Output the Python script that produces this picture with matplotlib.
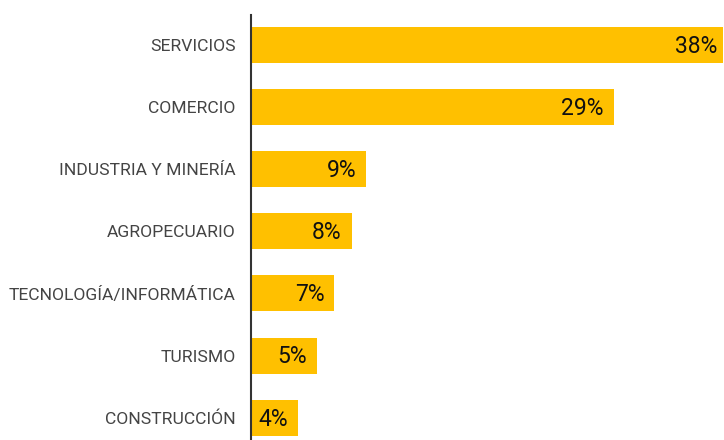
import matplotlib.pyplot as plt

sectors = ['SERVICIOS', 'COMERCIO', 'INDUSTRIA Y MINERÍA', 'AGROPECUARIO',
           'TECNOLOGÍA/INFORMÁTICA', 'TURISMO', 'CONSTRUCCIÓN']
values = [38.0, 29.2, 9.3, 8.1, 6.7, 5.3, 3.8]
labels = ['38%', '29%', '9%', '8%', '7%', '5%', '4%']

plt.rcParams['font.family'] = ['Roboto', 'DejaVu Sans']

fig = plt.figure(figsize=(7.24, 4.4), dpi=100)
ax = fig.add_axes([251 / 724, 0, 1 - 251 / 724, 1 - 15 / 440])

pos = list(range(len(sectors)))
ax.barh(pos, values, height=0.58, color='#FFC000')
for p, v, lab in zip(pos, values, labels):
    ax.annotate(lab, (v, p), xytext=(-4 if v > 30 else -7, -1), textcoords='offset points',
                ha='right', va='center', fontsize=16.5, color='#111111')

ax.set_xlim(0, 38.1)
ax.set_ylim(6.36, -0.484)
ax.set_yticks(pos)
ax.set_yticklabels(sectors, fontsize=12.6, color='#444444')
ax.tick_params(axis='y', length=0, pad=11)
ax.set_xticks([])
for s in ['top', 'right', 'bottom']:
    ax.spines[s].set_visible(False)
ax.spines['left'].set_color('#333333')
ax.spines['left'].set_linewidth(1.5)

fig.savefig('out.png', dpi=100)
